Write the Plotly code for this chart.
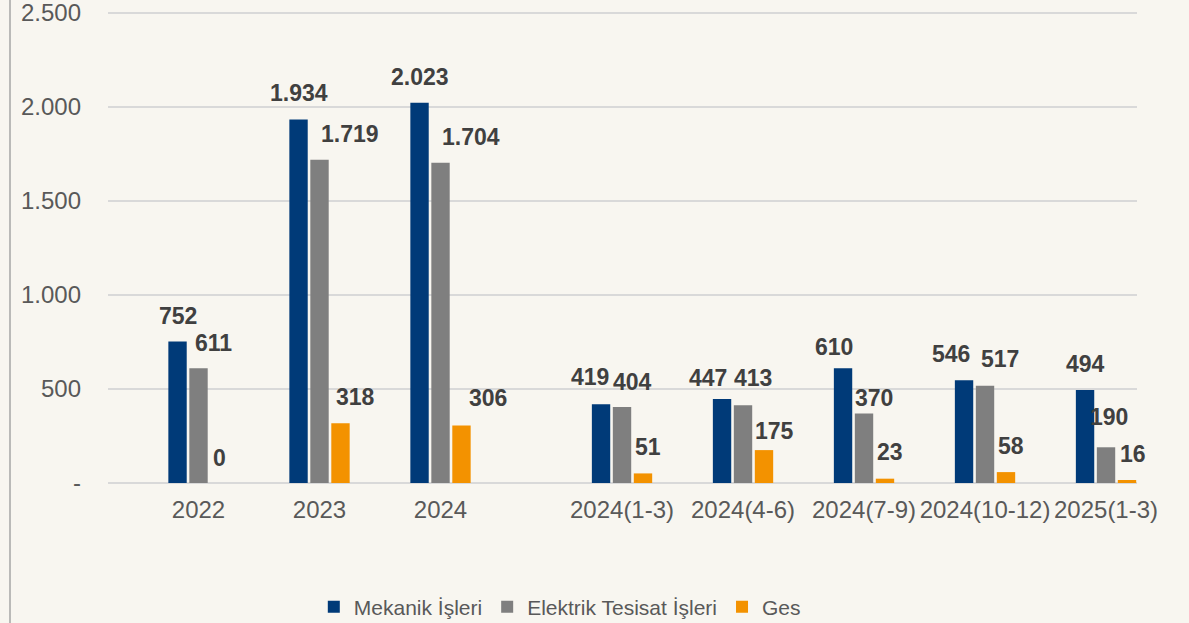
import plotly.graph_objects as go

# ---- data ----
categories = ["2022", "2023", "2024", "2024(1-3)", "2024(4-6)", "2024(7-9)", "2024(10-12)", "2025(1-3)"]
cat_pos = [0, 1, 2, 3.5, 4.5, 5.5, 6.5, 7.5]
mekanik = [752, 1934, 2023, 419, 447, 610, 546, 494]
elektrik = [611, 1719, 1704, 404, 413, 370, 517, 190]
ges = [0, 318, 306, 51, 175, 23, 58, 16]
series_names = ["Mekanik İşleri", "Elektrik Tesisat İşleri", "Ges"]
y_tickvals = [0, 500, 1000, 1500, 2000, 2500]
y_ticktext = ["-", "500", "1.000", "1.500", "2.000", "2.500"]

# ---- styling ----
colors = ["#003a78", "#7f7f7f", "#f39200"]
label_dx = [[0, 0, 0, -11, -14, -9, -13, 0],
            [15, 30, 30, 10, 10, 10, 15, 3],
            [0, 15, 27, 5, 11, 5, 5, 6]]
label_gap = [[17, 17, 17, 18, 12, 12, 17, 17],
             [16, 17, 17, 16, 18, 6, 18, 21],
             [16, 17, 18, 17, 10, 18, 17, 17]]
FONT = "Liberation Sans, Arial, sans-serif"
BG = "#f8f6f0"

fig = go.Figure()
all_series = [mekanik, elektrik, ges]
for name, vals, col in zip(series_names, all_series, colors):
    fig.add_trace(go.Bar(x=cat_pos, y=vals, name=name, marker_color=col,
                         marker_line_width=0))

bargap = 0.48
slot = (1 - bargap) / 3
annotations = []
for si, vals in enumerate(all_series):
    off = (si - 1) * slot
    for ci, v in enumerate(vals):
        annotations.append(dict(
            x=cat_pos[ci] + off, y=v, xref="x", yref="y",
            text=f"{v:,}".replace(",", "."), showarrow=False,
            xanchor="center", yanchor="bottom",
            xshift=label_dx[si][ci], yshift=label_gap[si][ci] - 6,
            font=dict(family=FONT, size=23, color="#404040", weight="bold")))

fig.update_layout(
    barmode="group", bargap=bargap, bargroupgap=0.124,
    width=1189, height=623,
    margin=dict(l=108, r=52, t=0, b=140, autoexpand=False),
    paper_bgcolor=BG, plot_bgcolor=BG,
    font=dict(family=FONT, color="#595959", size=22),
    annotations=annotations,
    legend=dict(orientation="h", x=0.2, xanchor="left", y=-0.2567, yanchor="middle",
                font=dict(size=21, color="#595959"), bgcolor="rgba(0,0,0,0)",
                traceorder="normal"),
    shapes=[dict(type="line", xref="paper", yref="paper",
                 x0=(10 - 108) / 1029, x1=(10 - 108) / 1029, y0=-0.3, y1=1.01,
                 line=dict(color="#a6a6a6", width=1.5))],
)
fig.update_xaxes(range=[-0.748, 7.756], tickvals=cat_pos, ticktext=categories,
                 showgrid=False, zeroline=False, showline=False, ticks="",
                 automargin=False,
                 tickfont=dict(size=24, color="#595959"), ticklabelstandoff=10)
fig.update_yaxes(range=[0, 2569], tickvals=y_tickvals, ticktext=y_ticktext,
                 showgrid=True, gridcolor="#d9d9d9", gridwidth=1.5,
                 zeroline=True, zerolinecolor="#d9d9d9", zerolinewidth=1.5,
                 showline=False, ticks="", ticklabelstandoff=26, automargin=False,
                 ticklabeloverflow="allow",
                 tickfont=dict(size=24, color="#595959"))

fig.write_html("out.html", config={"displayModeBar": False},
               post_script="document.body.style.margin='0';document.body.style.overflow='hidden';")
